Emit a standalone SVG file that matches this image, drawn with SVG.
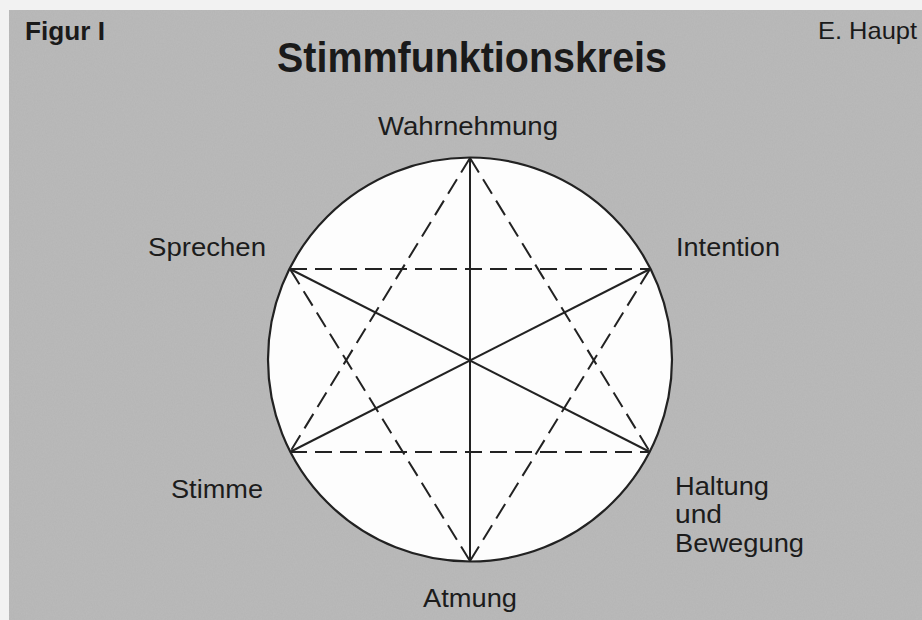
<svg xmlns="http://www.w3.org/2000/svg" width="922" height="620" viewBox="0 0 922 620">
<style>
.lbl{font-family:"Liberation Sans",Arial,sans-serif;font-size:25px;fill:#1c1c1c}
.hdr{font-family:"Liberation Sans",Arial,sans-serif;fill:#1a1a1a}
.solid{stroke:#222;stroke-width:2;fill:none}
.dash{stroke:#222;stroke-width:2;fill:none;stroke-dasharray:17 8}
</style>
<defs>
<filter id="grain" x="0" y="0" width="100%" height="100%">
<feTurbulence type="fractalNoise" baseFrequency="0.9 0.6" numOctaves="2" seed="3" result="n"/>
<feColorMatrix type="matrix" values="0 0 0 0 0.66  0 0 0 0 0.66  0 0 0 0 0.66  0 0 0 0.3 0"/>
</filter>
</defs>
<rect width="922" height="620" fill="#f2f2f2"/>
<rect x="9" y="10" width="913" height="610" fill="#b5b5b5"/>
<rect x="9" y="10" width="913" height="610" filter="url(#grain)" opacity="0.6"/>
<g id="header">
<text class="hdr" x="25" y="40" font-size="25" font-weight="bold" textLength="80" lengthAdjust="spacingAndGlyphs">Figur I</text>
<text class="hdr" x="472" y="72" font-size="42" font-weight="bold" text-anchor="middle" textLength="390" lengthAdjust="spacingAndGlyphs">Stimmfunktionskreis</text>
<text class="hdr" x="818" y="39" font-size="24" textLength="99" lengthAdjust="spacingAndGlyphs">E. Haupt</text>
</g>
<g id="circle">
<circle cx="470" cy="359.5" r="202" fill="#fdfdfd" stroke="#222" stroke-width="2.2"/>
</g>
<g id="connectors">
<line class="solid" x1="470" y1="158" x2="470" y2="561"/>
<line class="solid" x1="290" y1="269" x2="650" y2="452"/>
<line class="solid" x1="650" y1="269" x2="290" y2="452"/>
<line class="dash" x1="290" y1="269" x2="650" y2="269"/>
<line class="dash" x1="290" y1="452" x2="650" y2="452"/>
<line class="dash" x1="470" y1="158" x2="290" y2="452"/>
<line class="dash" x1="470" y1="158" x2="650" y2="452"/>
<line class="dash" x1="470" y1="561" x2="290" y2="269"/>
<line class="dash" x1="470" y1="561" x2="650" y2="269"/>
</g>
<g id="wahrnehmung"><text class="lbl" x="378" y="135" textLength="180" lengthAdjust="spacingAndGlyphs">Wahrnehmung</text></g>
<g id="intention"><text class="lbl" x="676" y="256" textLength="104" lengthAdjust="spacingAndGlyphs">Intention</text></g>
<g id="haltung"><text class="lbl" x="675" y="495"><tspan x="675" textLength="94" lengthAdjust="spacingAndGlyphs">Haltung</tspan><tspan x="675" y="523" textLength="47" lengthAdjust="spacingAndGlyphs">und</tspan><tspan x="675" y="552" textLength="129" lengthAdjust="spacingAndGlyphs">Bewegung</tspan></text></g>
<g id="atmung"><text class="lbl" x="423" y="607" textLength="94" lengthAdjust="spacingAndGlyphs">Atmung</text></g>
<g id="stimme"><text class="lbl" x="171" y="498" textLength="92" lengthAdjust="spacingAndGlyphs">Stimme</text></g>
<g id="sprechen"><text class="lbl" x="148" y="256" textLength="118" lengthAdjust="spacingAndGlyphs">Sprechen</text></g>
</svg>
